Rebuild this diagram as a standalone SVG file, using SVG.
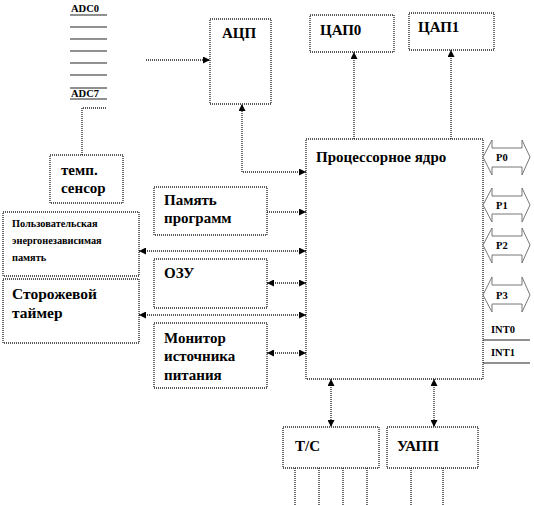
<svg xmlns="http://www.w3.org/2000/svg" width="534" height="505" viewBox="0 0 534 505">
<style>
.box{fill:#fff;stroke:#222;stroke-width:1.3;stroke-dasharray:1,1}
.ln{fill:none;stroke:#222;stroke-width:1.3;stroke-dasharray:1,1}
.sl{fill:none;stroke:#222;stroke-width:1.2}
.port{fill:#fff;stroke:#777;stroke-width:1}
text{font-family:'Liberation Serif','DejaVu Serif',serif;font-weight:bold;fill:#000}
.t{font-size:15px}
.s{font-size:10.3px}
.b{font-size:15.5px}
.x{font-size:10.5px}
</style>
<defs>
<marker id="ah" viewBox="0 0 10 10" refX="10" refY="5" markerWidth="7" markerHeight="7" orient="auto-start-reverse" markerUnits="userSpaceOnUse">
<path d="M0,0 L10,5 L0,10 z" fill="#000"/>
</marker>
</defs>
<rect width="534" height="505" fill="#fff"/>

<g id="adc-inputs">
<text class="x" x="71" y="12">ADC0</text>
<line class="sl" x1="70" y1="15" x2="107" y2="15"/>
<line class="sl" x1="70" y1="27" x2="107" y2="27"/>
<line class="sl" x1="70" y1="39" x2="107" y2="39"/>
<line class="sl" x1="70" y1="51" x2="107" y2="51"/>
<line class="sl" x1="70" y1="63" x2="107" y2="63"/>
<line class="sl" x1="70" y1="75" x2="107" y2="75"/>
<line class="sl" x1="70" y1="88" x2="107" y2="88"/>
<text class="x" x="71" y="97">ADC7</text>
<line class="sl" x1="70" y1="99" x2="107" y2="99"/>
</g>

<g id="temp">
<rect class="box" x="50" y="155" width="73" height="48"/>
<text class="t" x="61" y="175">темп.</text>
<text class="t" x="61" y="193">сенсор</text>
</g>

<g id="adc">
<rect class="box" x="210" y="19" width="61" height="85"/>
<text class="t" x="222" y="38">АЦП</text>
</g>

<g id="dac0">
<rect class="box" x="310" y="15" width="84" height="37"/>
<text class="t" x="320" y="35">ЦАП0</text>
</g>

<g id="dac1">
<rect class="box" x="409" y="13" width="85" height="37"/>
<text class="t" x="418" y="32">ЦАП1</text>
</g>

<g id="core">
<rect class="box" x="306" y="139" width="177" height="240"/>
<text class="t" x="316" y="162">Процессорное ядро</text>
</g>

<g id="progmem">
<rect class="box" x="154" y="187" width="113" height="48"/>
<text class="t" x="164" y="205">Память</text>
<text class="t" x="164" y="223">программ</text>
</g>

<g id="eeprom">
<rect class="box" x="3" y="212" width="136" height="64"/>
<text class="s" x="12" y="227">Пользовательская</text>
<text class="s" x="12" y="244">энергонезависимая</text>
<text class="s" x="12" y="261">память</text>
</g>

<g id="ram">
<rect class="box" x="154" y="259" width="113" height="49"/>
<text class="t" x="164" y="278">ОЗУ</text>
</g>

<g id="watchdog">
<rect class="box" x="3" y="279" width="136" height="64"/>
<text class="b" x="12" y="299">Сторожевой</text>
<text class="b" x="12" y="318">таймер</text>
</g>

<g id="monitor">
<rect class="box" x="154" y="323" width="113" height="65"/>
<text class="t" x="164" y="343">Монитор</text>
<text class="t" x="164" y="361">источника</text>
<text class="t" x="164" y="380">питания</text>
</g>

<g id="tc">
<rect class="box" x="283" y="427" width="96" height="41"/>
<text class="t" x="295" y="451">Т/С</text>
</g>

<g id="uart">
<rect class="box" x="387" y="427" width="91" height="41"/>
<text class="t" x="397" y="451">УАПП</text>
</g>

<g id="ports">
<g id="p0">
<path class="port" d="M483,157 L492,140 L492,148 L522,148 L522,140 L530,157 L522,175 L522,167 L492,167 L492,175 Z"/>
<text class="x" x="496" y="161">P0</text>
</g>
<g id="p1">
<path class="port" d="M483,205 L492,188 L492,196 L522,196 L522,188 L530,205 L522,222 L522,214 L492,214 L492,222 Z"/>
<text class="x" x="496" y="209">P1</text>
</g>
<g id="p2">
<path class="port" d="M483,245 L492,228 L492,236 L522,236 L522,228 L530,245 L522,263 L522,255 L492,255 L492,263 Z"/>
<text class="x" x="496" y="249">P2</text>
</g>
<g id="p3">
<path class="port" d="M483,295 L492,277 L492,285 L522,285 L522,277 L530,295 L522,312 L522,304 L492,304 L492,312 Z"/>
<text class="x" x="496" y="299">P3</text>
</g>
<text class="x" x="491" y="333">INT0</text>
<line class="sl" x1="483" y1="340" x2="530" y2="340"/>
<text class="x" x="491" y="356">INT1</text>
<line class="sl" x1="483" y1="363" x2="530" y2="363"/>
</g>

<g id="connectors">
<polyline class="ln" points="82,155 82,108 107,108"/>
<line class="ln" x1="146" y1="60" x2="210" y2="60" marker-end="url(#ah)"/>
<polyline class="ln" points="306,172 242,172 242,104" marker-start="url(#ah)" marker-end="url(#ah)"/>
<line class="ln" x1="354" y1="139" x2="354" y2="52" marker-end="url(#ah)"/>
<line class="ln" x1="451" y1="139" x2="451" y2="50" marker-end="url(#ah)"/>
<line class="ln" x1="267" y1="212" x2="306" y2="212" marker-end="url(#ah)"/>
<line class="ln" x1="139" y1="251" x2="306" y2="251" marker-start="url(#ah)" marker-end="url(#ah)"/>
<line class="ln" x1="267" y1="283" x2="306" y2="283" marker-start="url(#ah)" marker-end="url(#ah)"/>
<line class="ln" x1="139" y1="315" x2="306" y2="315" marker-start="url(#ah)" marker-end="url(#ah)"/>
<line class="ln" x1="267" y1="353" x2="306" y2="353" marker-start="url(#ah)" marker-end="url(#ah)"/>
<line class="ln" x1="331" y1="379" x2="331" y2="427" marker-start="url(#ah)" marker-end="url(#ah)"/>
<line class="ln" x1="434" y1="379" x2="434" y2="427" marker-start="url(#ah)" marker-end="url(#ah)"/>
<line class="ln" x1="295" y1="468" x2="295" y2="505"/>
<line class="ln" x1="319" y1="468" x2="319" y2="505"/>
<line class="ln" x1="343" y1="468" x2="343" y2="505"/>
<line class="ln" x1="367" y1="468" x2="367" y2="505"/>
<line class="ln" x1="411" y1="468" x2="411" y2="505"/>
<line class="ln" x1="443" y1="468" x2="443" y2="505"/>
</g>
</svg>
